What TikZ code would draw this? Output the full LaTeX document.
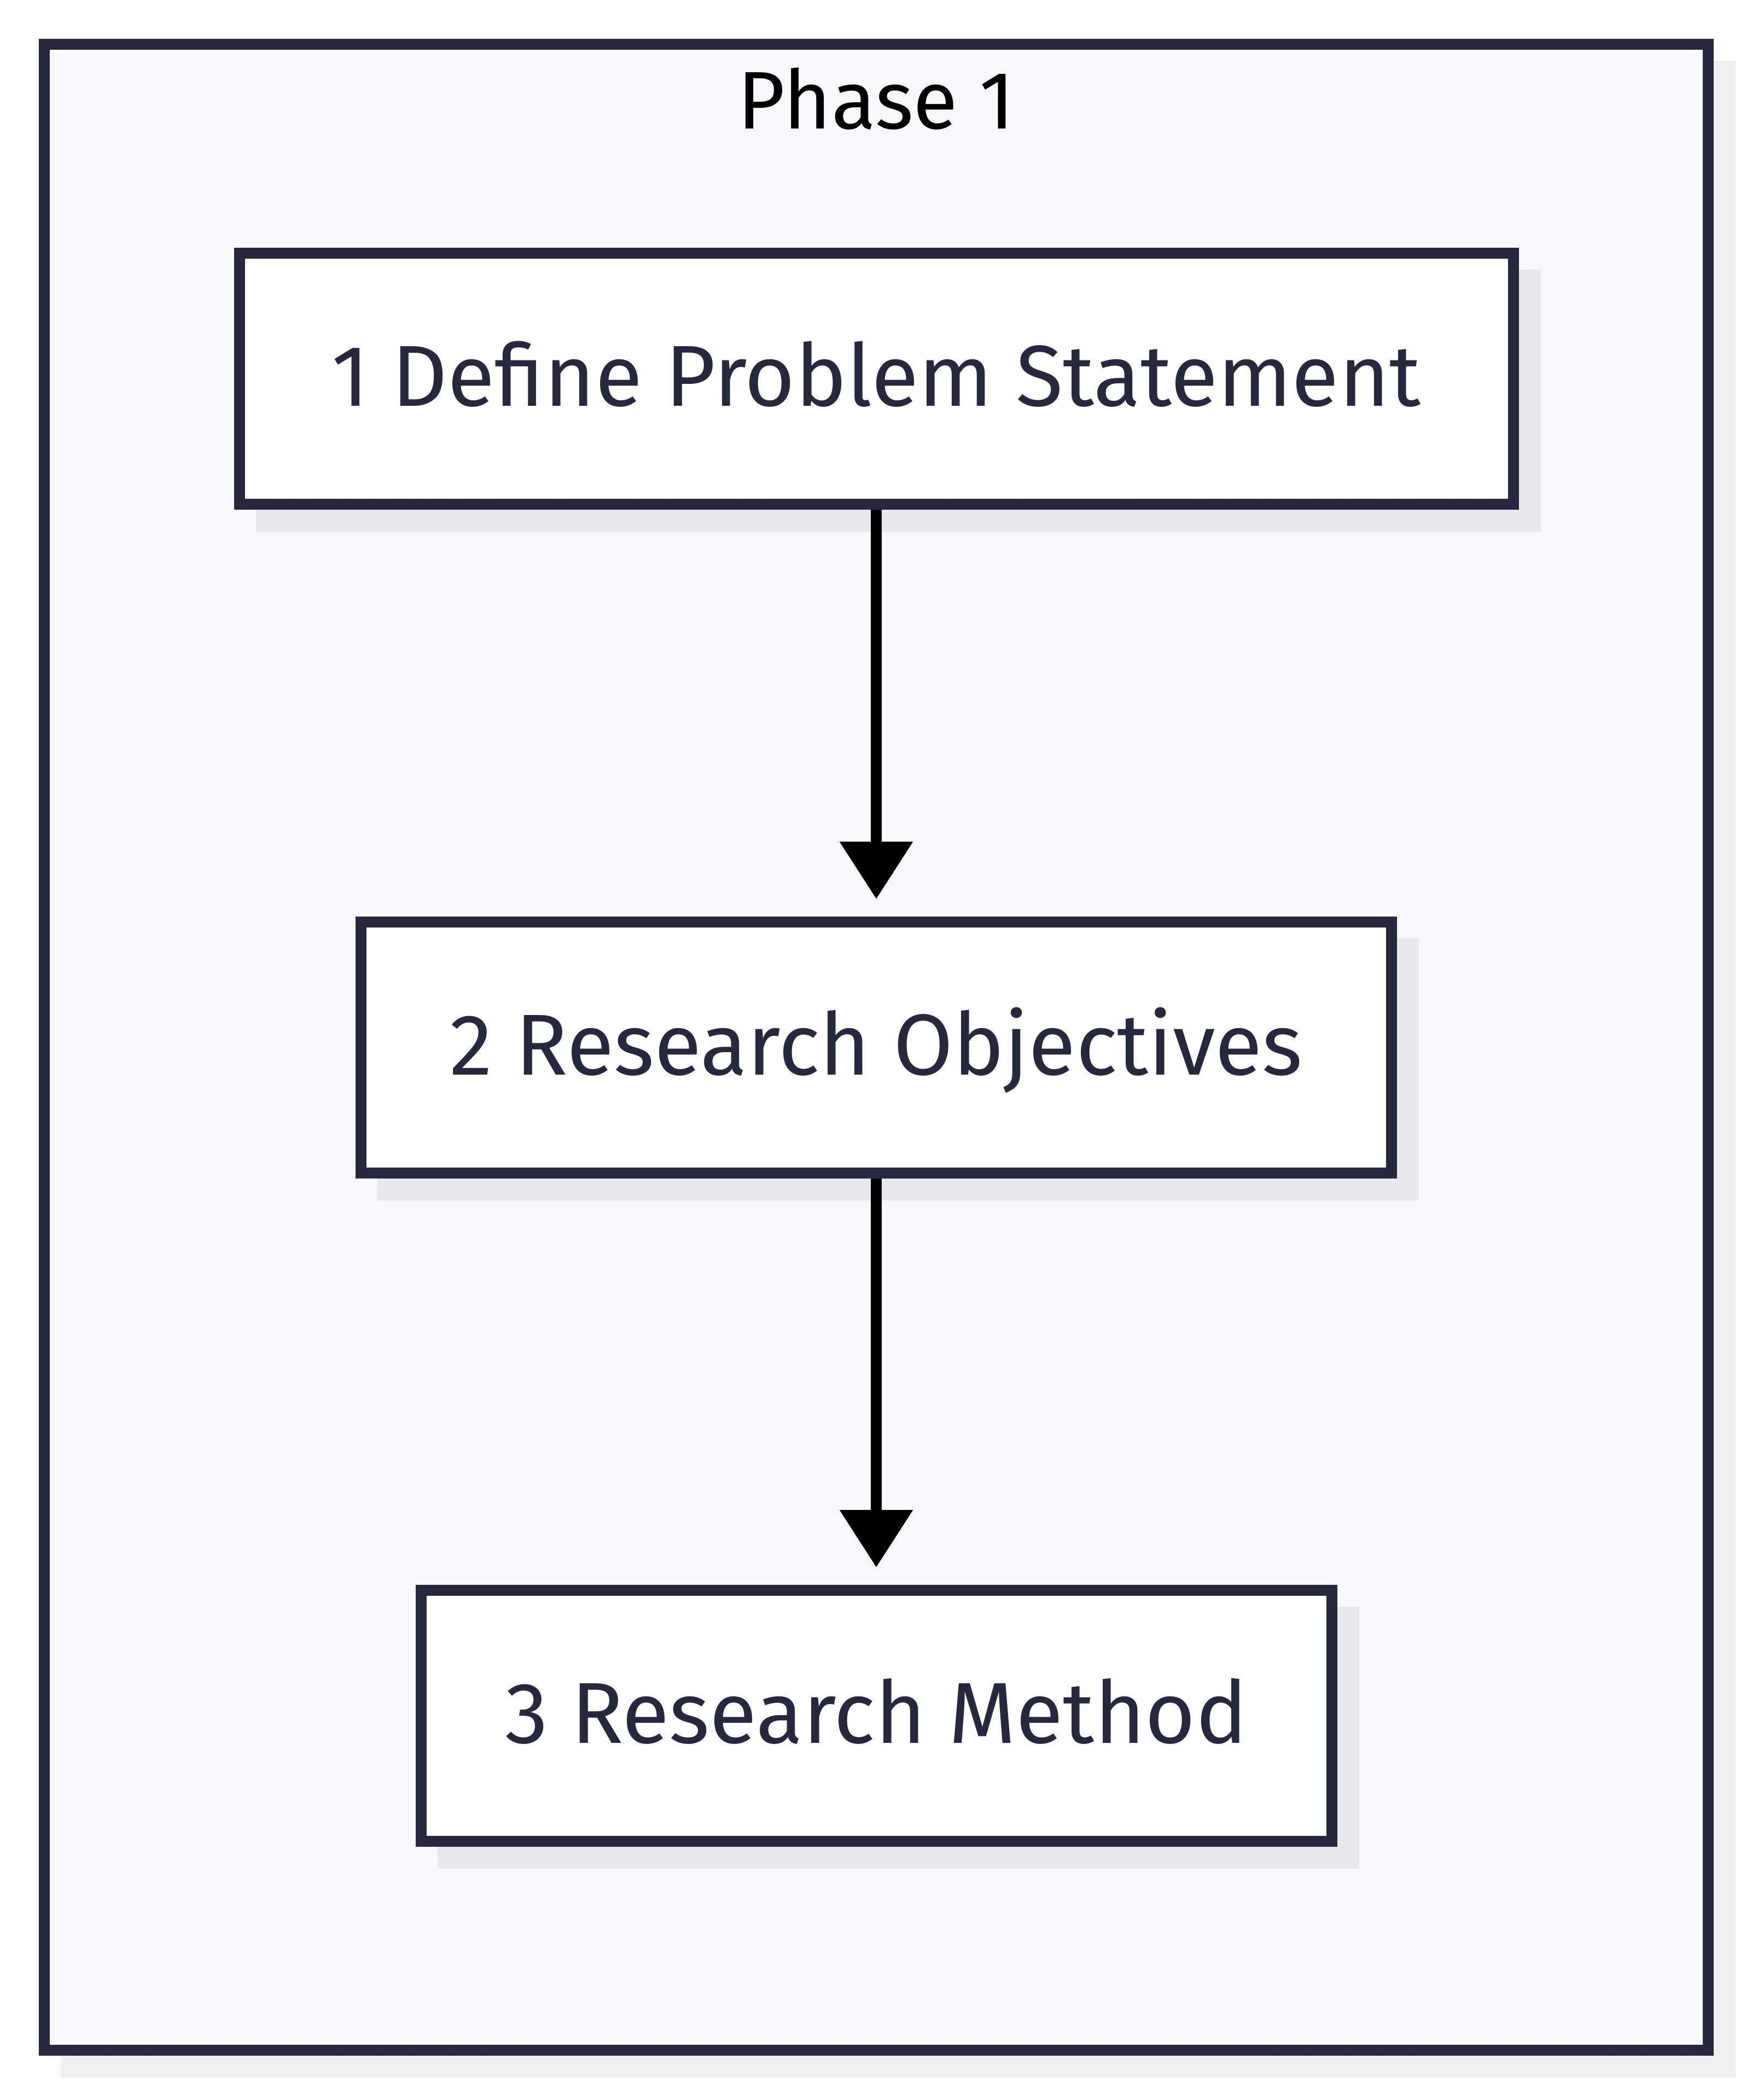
\documentclass[tikz,border=0pt]{standalone}
\usepackage{fontspec}
\setmainfont{Fira Sans}
\usepackage{tikz}
\usetikzlibrary{arrows.meta,positioning,shadows}
\definecolor{ink}{RGB}{39,40,62}
\definecolor{panel}{RGB}{248,248,250}
\definecolor{boxshade}{RGB}{232,232,236}
\definecolor{panelshade}{RGB}{239,239,239}

\begin{document}
\begin{tikzpicture}[
  phase/.style={draw=ink, line width=0.2cm, fill=panel, minimum width=30.42cm, minimum height=36.68cm,
    drop shadow={shadow xshift=0.4cm, shadow yshift=-0.4cm, opacity=1, fill=panelshade, draw=panelshade, line width=0.2cm}},
  stage/.style={draw=ink, line width=0.2cm, fill=white, text=ink, minimum height=4.59cm, font=\fontsize{45}{54}\selectfont,
    text height=1.2cm, text depth=0.21cm,
    drop shadow={shadow xshift=0.4cm, shadow yshift=-0.4cm, opacity=1, fill=boxshade, draw=boxshade, line width=0.2cm}},
  flow/.style={->, line width=0.2cm, shorten >=0.32cm},
  >={Triangle[length=1.05cm,width=1.29cm]}]
  \fill[white] (0,0) rectangle (32.13,-38.40);
  \useasboundingbox (0,0) rectangle (32.13,-38.40);
  \node[phase] (ph) at (16.02,-19.15) {};
  \node[anchor=base, font=\fontsize{42.5}{50}\selectfont] (title) at (16.02,-2.36) {Phase 1};
  \node[stage, minimum width=23.29cm] (problem) at (16.02,-6.925) {1 Define Problem Statement};
  \node[stage, minimum width=18.84cm] (objectives) at (16.02,-19.155) {2 Research Objectives};
  \node[stage, minimum width=16.65cm] (method) at (16.02,-31.375) {3 Research Method};
  \draw[flow] (problem) -- (objectives);
  \draw[flow] (objectives) -- (method);
\end{tikzpicture}
\end{document}
